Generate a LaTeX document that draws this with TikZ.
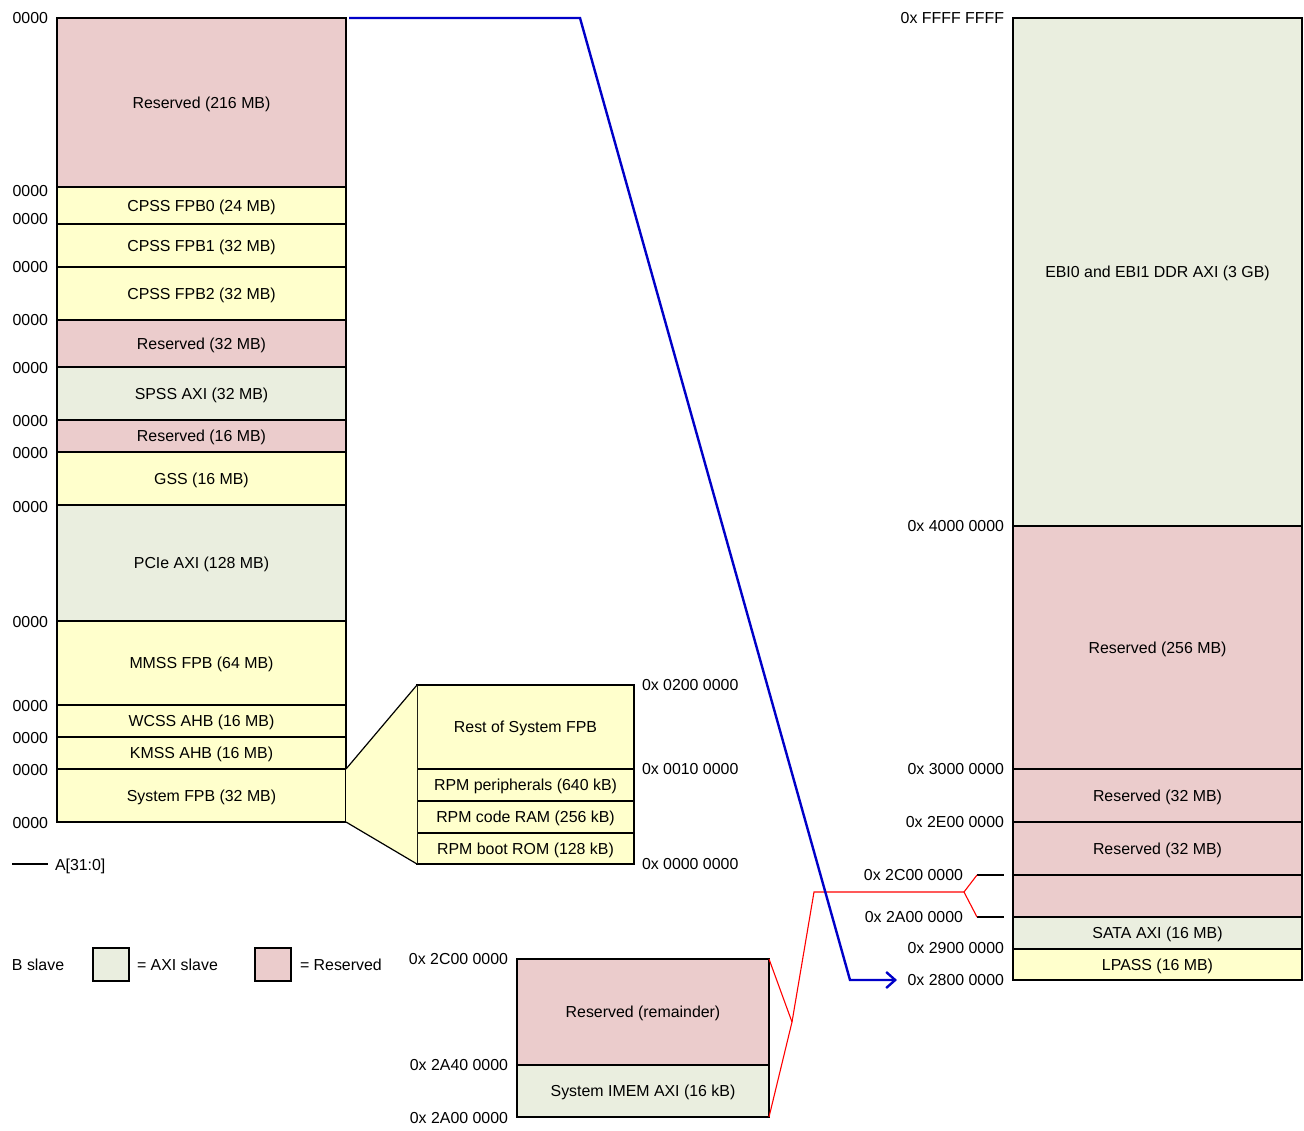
\documentclass[tikz,border=0pt]{standalone}
\usepackage{fontspec}
\setmainfont{Liberation Sans}
\usepackage{tikz}
\usetikzlibrary{positioning,arrows.meta}
\definecolor{rsvpink}{RGB}{235,204,204}
\definecolor{fpbyellow}{RGB}{255,255,204}
\definecolor{axigreen}{RGB}{234,238,223}
\definecolor{busblue}{RGB}{0,0,200}

\begin{document}
\begin{tikzpicture}[x=1pt, y=-1pt,
		font=\fontsize{15.9}{19}\selectfont,
		region/.style={draw, line width=1.2pt, inner sep=0pt, outer sep=0pt, text depth=0pt, minimum width=289pt},
		rsv/.style={region, fill=rsvpink},
		fpb/.style={region, fill=fpbyellow},
		axi/.style={region, fill=axigreen},
		addr/.style={inner sep=0pt, outer sep=0pt, text depth=0pt}]
		%%%%% START %%%%%
		
		\useasboundingbox (0,0) rectangle (1304,1130);
		
		% left map
		\node[rsv, minimum height=169pt, anchor=north west] (lrsvA) at (57,18) {Reserved (216 MB)};
		\node[fpb, minimum height=37pt, below=0pt of lrsvA] (cpss0) {CPSS FPB0 (24 MB)};
		\node[fpb, minimum height=43pt, below=0pt of cpss0] (cpss1) {CPSS FPB1 (32 MB)};
		\node[fpb, minimum height=53pt, below=0pt of cpss1] (cpss2) {CPSS FPB2 (32 MB)};
		\node[rsv, minimum height=47pt, below=0pt of cpss2] (lrsvB) {Reserved (32 MB)};
		\node[axi, minimum height=53pt, below=0pt of lrsvB] (spss) {SPSS AXI (32 MB)};
		\node[rsv, minimum height=32pt, below=0pt of spss] (lrsvC) {Reserved (16 MB)};
		\node[fpb, minimum height=53pt, below=0pt of lrsvC] (gss) {GSS (16 MB)};
		\node[axi, minimum height=116pt, below=0pt of gss] (pcie) {PCIe AXI (128 MB)};
		\node[fpb, minimum height=84pt, below=0pt of pcie] (mmss) {MMSS FPB (64 MB)};
		\node[fpb, minimum height=32pt, below=0pt of mmss] (wcss) {WCSS AHB (16 MB)};
		\node[fpb, minimum height=32pt, below=0pt of wcss] (kmss) {KMSS AHB (16 MB)};
		\node[fpb, minimum height=53pt, below=0pt of kmss] (sysfpb) {System FPB (32 MB)};
		
		\foreach \y [count=\i] in {18,191,219,267,320,368,421,453,507,622,706,738,770,823}
			\node[addr, anchor=east] (la\i) at (48,\y) {0000};
		
		% system FPB zoom
		\node[fpb, minimum width=217pt, minimum height=84pt, anchor=north west] (restfpb) at (417,685) {Rest of System FPB};
		\node[fpb, minimum width=217pt, minimum height=32pt, below=0pt of restfpb] (rpmper) {RPM peripherals (640 kB)};
		\node[fpb, minimum width=217pt, minimum height=32pt, below=0pt of rpmper] (rpmram) {RPM code RAM (256 kB)};
		\node[fpb, minimum width=217pt, minimum height=31pt, below=0pt of rpmram] (rpmrom) {RPM boot ROM (128 kB)};
		
		\fill[fpbyellow] (sysfpb.north east) -- (restfpb.north west) -- (rpmrom.south west) -- (sysfpb.south east) -- cycle;
		\draw[line width=1.2pt] (sysfpb.north east) -- (restfpb.north west);
		\draw[line width=1.2pt] (sysfpb.south east) -- (rpmrom.south west);
		
		\node[addr, anchor=west] (za1) at (642,685) {0x 0200 0000};
		\node[addr, anchor=west] (za2) at (642,769) {0x 0010 0000};
		\node[addr, anchor=west] (za3) at (642,864) {0x 0000 0000};
		
		% legend
		\coordinate (busa) at (12,864);
		\coordinate (busb) at (48,864);
		\draw[line width=1.1pt] (busa) -- (busb);
		\node[addr, anchor=west] (buslbl) at (55,865) {A[31:0]};
		\node[addr, anchor=west] (bslave) at (12,965) {B slave};
		\node[axi, minimum width=36pt, minimum height=33pt, anchor=north west] (keyaxi) at (93,948) {};
		\node[addr, anchor=west] (keyaxilbl) at (137,965) {= AXI slave};
		\node[rsv, minimum width=36pt, minimum height=33pt, anchor=north west] (keyrsv) at (255,948) {};
		\node[addr, anchor=west] (keyrsvlbl) at (300,965) {= Reserved};
		
		% IMEM zoom
		\node[rsv, minimum width=252pt, minimum height=106pt, anchor=north west] (rsvrem) at (517,959) {Reserved (remainder)};
		\node[axi, minimum width=252pt, minimum height=52pt, below=0pt of rsvrem] (imem) {System IMEM AXI (16 kB)};
		\node[addr, anchor=east] (ia1) at (508,959) {0x 2C00 0000};
		\node[addr, anchor=east] (ia2) at (508,1065) {0x 2A40 0000};
		\node[addr, anchor=east] (ia3) at (508,1118) {0x 2A00 0000};
		
		% right map
		\node[axi, minimum height=508pt, anchor=north west] (ebi) at (1013,18) {EBI0 and EBI1 DDR AXI (3 GB)};
		\node[rsv, minimum height=243pt, below=0pt of ebi] (rrsvA) {Reserved (256 MB)};
		\node[rsv, minimum height=53pt, below=0pt of rrsvA] (rrsvB) {Reserved (32 MB)};
		\node[rsv, minimum height=53pt, below=0pt of rrsvB] (rrsvC) {Reserved (32 MB)};
		\node[rsv, minimum height=42pt, below=0pt of rrsvC] (rrsvD) {};
		\node[axi, minimum height=32pt, below=0pt of rrsvD] (sata) {SATA AXI (16 MB)};
		\node[fpb, minimum height=31pt, below=0pt of sata] (lpass) {LPASS (16 MB)};
		
		\node[addr, anchor=east] (ra1) at (1004,18) {0x FFFF FFFF};
		\node[addr, anchor=east] (ra2) at (1004,526) {0x 4000 0000};
		\node[addr, anchor=east] (ra3) at (1004,769) {0x 3000 0000};
		\node[addr, anchor=east] (ra4) at (1004,822) {0x 2E00 0000};
		\node[addr, anchor=east] (ra5) at (963,875) {0x 2C00 0000};
		\node[addr, anchor=east] (ra6) at (963,917) {0x 2A00 0000};
		\node[addr, anchor=east] (ra7) at (1004,948) {0x 2900 0000};
		\node[addr, anchor=east] (ra8) at (1004,980) {0x 2800 0000};
		
		% IMEM pointer
		\coordinate (tickA) at (977,875);
		\coordinate (tickB) at (977,917);
		\draw[line width=1.2pt] (tickA) -- ++(27,0);
		\draw[line width=1.2pt] (tickB) -- ++(27,0);
		\coordinate (fork) at (964,892);
		\coordinate (kneeA) at (814,892);
		\coordinate (kneeB) at (792,1022);
		\draw[red, line width=1.1pt] (tickA) -- (fork) -- (tickB);
		\draw[red, line width=1.1pt] (fork) -- (kneeA) -- (kneeB);
		\draw[red, line width=1.1pt] (rsvrem.north east) -- (kneeB) -- (imem.south east);
		
		% remap pointer
		\coordinate (bendA) at (580,18);
		\coordinate (bendB) at (850,980);
		\coordinate (tipend) at (897,980);
		\draw[busblue, line width=2.4pt, -{Straight Barb[length=9pt,width=16pt]}] ([xshift=3pt]lrsvA.north east) -- (bendA) -- (bendB) -- (tipend);
		
		%%%%% END %%%%%
	\end{tikzpicture}
\end{document}
